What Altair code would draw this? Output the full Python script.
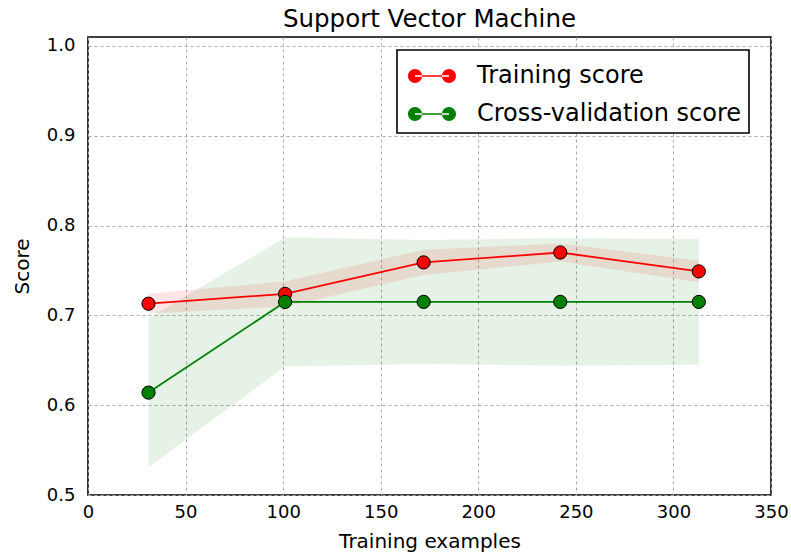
import altair as alt
import pandas as pd

# Learning-curve results for the support vector machine
train_sizes = [31, 101, 172, 242, 313]
train_mean = [0.713, 0.724, 0.759, 0.770, 0.749]
train_spread = [0.011, 0.014, 0.014, 0.010, 0.012]
cv_mean = [0.614, 0.715, 0.715, 0.715, 0.715]
cv_spread = [0.083, 0.072, 0.069, 0.071, 0.070]

series_names = ["Training score", "Cross-validation score"]
series_colors = ["red", "green"]
x_ticks = [0, 50, 100, 150, 200, 250, 300, 350]
y_ticks = [0.5, 0.6, 0.7, 0.8, 0.9, 1.0]

rows = []
for name, means, spreads in zip(series_names, [train_mean, cv_mean], [train_spread, cv_spread]):
    for n, m, s in zip(train_sizes, means, spreads):
        rows.append({"series": name, "size": n, "score": m, "lo": m - s, "hi": m + s})
df = pd.DataFrame(rows)

FONT = "DejaVu Sans"

x_enc = alt.X(
    "size:Q",
    scale=alt.Scale(domain=[0, 350], nice=False),
    axis=alt.Axis(values=x_ticks, title="Training examples", format="d", labelFlush=False),
)
y_scale = alt.Scale(domain=[0.5, 1.01], nice=False, zero=False)
y_axis = alt.Axis(values=y_ticks, title="Score", format=".1f", labelFlush=False)

base = alt.Chart(df)

# shaded +/- one standard deviation bands
bands = [
    base.transform_filter(alt.datum.series == name)
    .mark_area(color=col, opacity=0.1)
    .encode(x=x_enc, y=alt.Y("lo:Q", scale=y_scale, axis=y_axis), y2="hi:Q")
    for name, col in zip(series_names, series_colors)
]

# mean score lines
lines = [
    base.transform_filter(alt.datum.series == name)
    .mark_line(color=col, strokeWidth=1.8)
    .encode(x=x_enc, y=alt.Y("score:Q", scale=y_scale, axis=y_axis))
    for name, col in zip(series_names, series_colors)
]

# legend symbol: two filled circles joined by a thin filled bar
sym = (
    "M-0.9,-0.045L0.9,-0.045L0.9,0.045L-0.9,0.045Z"
    "M-1.27,0A0.37,0.37 0 1,0 -0.53,0A0.37,0.37 0 1,0 -1.27,0Z"
    "M0.53,0A0.37,0.37 0 1,0 1.27,0A0.37,0.37 0 1,0 0.53,0Z"
)

points = base.mark_point(
    filled=True, size=175, stroke="black", strokeWidth=1, opacity=1
).encode(
    x=x_enc,
    y=alt.Y("score:Q", scale=y_scale, axis=y_axis),
    color=alt.Color(
        "series:N",
        scale=alt.Scale(domain=series_names, range=series_colors),
        legend=alt.Legend(
            title=None,
            orient="none",
            legendX=309,
            legendY=13,
            symbolType=sym,
            symbolSize=1428,
            symbolStrokeWidth=0,
            symbolOpacity=1,
            symbolOffset=9,
            labelOffset=26,
            labelFont=FONT,
            labelFontSize=24,
            labelColor="black",
            labelLimit=400,
            rowPadding=7,
            padding=7,
            strokeColor="black",
            fillColor="white",
            cornerRadius=0,
        ),
    ),
)

chart = (
    alt.layer(*bands, *lines, points)
    .properties(
        width=683,
        height=458,
        autosize=alt.AutoSizeParams(type="none"),
        padding={"left": 88, "top": 37, "right": 20, "bottom": 61},
        title=alt.TitleParams(
            "Support Vector Machine",
            font=FONT,
            fontSize=24.5,
            fontWeight="normal",
            color="black",
            baseline="bottom",
            offset=4,
            dy=24,
        ),
    )
    .configure_view(stroke="black", strokeWidth=1.6)
    .configure_axis(
        domain=False,
        ticks=False,
        tickSize=0,
        grid=True,
        gridColor="#aaaaaa",
        gridDash=[3, 3],
        gridWidth=1,
        gridOpacity=1,
        labelFont=FONT,
        labelFontSize=18,
        labelColor="black",
        titleFont=FONT,
        titleFontSize=20,
        titleFontWeight="normal",
        titleColor="black",
    )
    .configure_axisX(labelPadding=8, titlePadding=10)
    .configure_axisY(labelPadding=13, titlePadding=14)
    .configure_legend(strokeWidth=1.6)
)

chart.save("out.html", embed_options={"renderer": "svg", "actions": False})
